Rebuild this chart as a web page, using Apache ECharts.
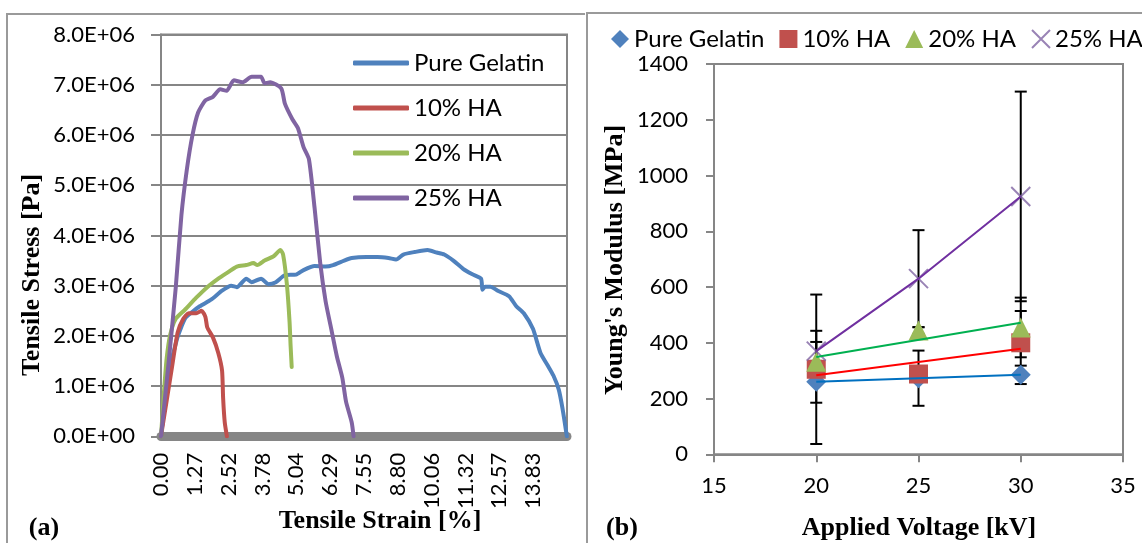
<!DOCTYPE html>
<html>
<head>
<meta charset="utf-8">
<script src="https://cdn.jsdelivr.net/npm/echarts@6/dist/echarts.min.js"></script>
<style>
  html, body { margin: 0; padding: 0; background: #fff; }
  #wrap { position: relative; width: 1142px; height: 543px; overflow: hidden; }
  #chartA { position: absolute; left: 0; top: 0; width: 585px; height: 543px; }
  #chartB { position: absolute; left: 585px; top: 0; width: 557px; height: 543px; }
</style>
</head>
<body>
<div id="wrap">
  <div id="chartA"></div>
  <div id="chartB"></div>
</div>
<script>
// ---------- (a) stress-strain curves: [strain %, stress x1E+06 Pa] ----------
const curveNames = ['Pure Gelatin', '10% HA', '20% HA', '25% HA']

const pureGelatinCurve = [
  [0, 0], [0.3, 1.25], [0.6, 1.95], [0.9, 2.35], [1.17, 2.48], [1.44, 2.59], [1.86, 2.72],
  [2.27, 2.9], [2.61, 3.0], [2.82, 2.97], [3.17, 3.14], [3.37, 3.07], [3.72, 3.14], [3.99, 3.03],
  [4.27, 3.07], [4.61, 3.21], [5.02, 3.22], [5.3, 3.31], [5.71, 3.39], [6.12, 3.38], [6.4, 3.41],
  [6.81, 3.5], [7.09, 3.55], [7.64, 3.57], [8.05, 3.57], [8.46, 3.55], [8.74, 3.52], [9.01, 3.62],
  [9.43, 3.67], [9.91, 3.71], [10.25, 3.66], [10.53, 3.62], [10.87, 3.5], [11.22, 3.34],
  [11.56, 3.23], [11.9, 3.14], [11.95, 2.92], [12.05, 2.98], [12.25, 2.98], [12.52, 2.9],
  [12.94, 2.79], [13.21, 2.59], [13.49, 2.45], [13.83, 2.14], [14.11, 1.66], [14.38, 1.41],
  [14.59, 1.21], [14.79, 0.93], [14.93, 0.55], [15.09, 0]
]
const ha10Curve = [
  [0, 0], [0.41, 1.38], [0.62, 2.07], [0.83, 2.34], [1.03, 2.45], [1.31, 2.45], [1.51, 2.5],
  [1.65, 2.38], [1.72, 2.17], [1.93, 1.97], [2.13, 1.66], [2.27, 1.31], [2.31, 0.76],
  [2.37, 0.28], [2.45, 0]
]
const ha20Curve = [
  [0, 0], [0.12, 0.95], [0.21, 1.55], [0.34, 2.02], [0.55, 2.34], [0.89, 2.52], [1.31, 2.76],
  [1.72, 2.97], [2.13, 3.14], [2.41, 3.24], [2.82, 3.38], [3.17, 3.41], [3.44, 3.45], [3.58, 3.41],
  [3.85, 3.5], [4.2, 3.59], [4.44, 3.71], [4.54, 3.62], [4.68, 3.03], [4.78, 2.28], [4.82, 1.79],
  [4.86, 1.38]
]
const ha25Curve = [
  [0, 0], [0.28, 1.45], [0.55, 2.97], [0.76, 4.41], [0.96, 5.31], [1.17, 6.0], [1.38, 6.45],
  [1.65, 6.69], [1.93, 6.76], [2.2, 6.91], [2.44, 6.88], [2.71, 7.09], [3.03, 7.05], [3.37, 7.16],
  [3.72, 7.16], [3.85, 7.03], [4.06, 7.05], [4.47, 6.93], [4.61, 6.62], [4.89, 6.31], [5.09, 6.14],
  [5.3, 5.76], [5.5, 5.52], [5.71, 4.55], [5.92, 3.45], [6.12, 2.69], [6.33, 2.14], [6.54, 1.59],
  [6.74, 1.17], [6.88, 0.69], [7.09, 0.28], [7.16, 0]
]

const strainStep = 1.258
const strainTicks = ['0.00', '1.27', '2.52', '3.78', '5.04', '6.29', '7.55', '8.80', '10.06', '11.32', '12.57', '13.83']
const stressTicks = ['0.0E+00', '1.0E+06', '2.0E+06', '3.0E+06', '4.0E+06', '5.0E+06', '6.0E+06', '7.0E+06', '8.0E+06']

// ---------- (b) Young's modulus vs applied voltage [MPa] ----------
const voltages = [20, 25, 30]
const pureGelatinModulus = [260, 273, 285]
const pureGelatinError = [75, 99, 33]
const ha10Modulus = [305, 288, 400]
const ha10Error = [268, 20, 114]
const ha20Modulus = [332, 444, 455]
const ha20Error = [71, 12, 107]
const ha25Modulus = [370, 630, 925]
const ha25Error = [73, 174, 376]

const sans = 'Lato, "Open Sans", sans-serif'
const serif = '"Liberation Serif", "DejaVu Serif", serif'
const gray = '#868686'
const colors = ['#4F81BD', '#C0504D', '#9BBB59', '#8064A2']
const trendColors = ['#0070C0', '#FF0000', '#00B050', '#7030A0']

function titleText(text, x, y, rotation) {
  return {
    type: 'text', x, y, rotation: rotation || 0,
    style: { text, fill: '#000', font: 'bold 26px ' + serif, textAlign: 'center', textVerticalAlign: 'middle' }
  }
}

function frame(x, y) {
  return {
    type: 'rect', shape: { x, y, width: 600, height: 600 },
    style: { fill: 'none', stroke: '#9a9a9a', lineWidth: 2 }, silent: true
  }
}

// ---------- chart (a) ----------
const chartA = echarts.init(document.getElementById('chartA'))
const curves = [pureGelatinCurve, ha10Curve, ha20Curve, ha25Curve]
chartA.setOption({
  animation: false,
  grid: { left: 161, top: 34.6, width: 406, height: 401.7, show: true, borderColor: gray, borderWidth: 2 },
  legend: {
    orient: 'vertical', left: 348, top: 45, itemWidth: 56, itemHeight: 5, itemGap: 19,
    icon: 'roundRect',
    data: curveNames,
    textStyle: { fontFamily: sans, fontSize: 24, color: '#000', lineHeight: 26 }
  },
  xAxis: {
    type: 'value', min: 0, max: strainStep * 12, interval: strainStep, offset: 4.5,
    axisLine: { lineStyle: { color: gray, width: 9 } },
    axisTick: { show: false },
    splitLine: { show: false },
    axisLabel: {
      rotate: 90, margin: 12, fontFamily: sans, fontSize: 22, color: '#000',
      formatter: v => strainTicks[Math.round(v / strainStep)] || ''
    }
  },
  yAxis: {
    type: 'value', min: 0, max: 8, interval: 1,
    axisLine: { show: true, lineStyle: { color: gray, width: 2 } },
    axisTick: { show: true, length: 10, lineStyle: { color: gray, width: 2 } },
    splitLine: { lineStyle: { color: gray, width: 2 } },
    axisLabel: { margin: 26, fontFamily: sans, fontSize: 22, color: '#000', formatter: v => stressTicks[Math.round(v)] }
  },
  series: curves.map((c, i) => ({
    name: curveNames[i], type: 'line', data: c, symbol: 'none', smooth: 0.2,
    lineStyle: { color: colors[i], width: 4, cap: 'round', join: 'round' },
    itemStyle: { color: colors[i] }
  })),
  graphic: [
    frame(7, 14),
    titleText('Tensile Stress [Pa]', 32, 275, Math.PI / 2),
    titleText('Tensile Strain [%]', 380, 521),
    titleText('(a)', 44, 528)
  ]
})

// ---------- chart (b) ----------
const modulus = [pureGelatinModulus, ha10Modulus, ha20Modulus, ha25Modulus]
const errors = [pureGelatinError, ha10Error, ha20Error, ha25Error]
const symbols = ['diamond', 'rect', 'triangle', 'path://M0,0L10,10M10,0L0,10']
const symbolSizes = [20, 19, 20, 19]

function linearFit(xs, ys) {
  const n = xs.length
  const mx = xs.reduce((a, b) => a + b, 0) / n
  const my = ys.reduce((a, b) => a + b, 0) / n
  let sxy = 0, sxx = 0
  xs.forEach((x, i) => { sxy += (x - mx) * (ys[i] - my); sxx += (x - mx) * (x - mx) })
  const k = sxy / sxx
  return x => my + k * (x - mx)
}

function errorBar(params, api) {
  const x = api.value(0)
  const hi = api.coord([x, api.value(2)])
  const lo = api.coord([x, api.value(1)])
  const w = 6
  const style = { stroke: '#000', lineWidth: 2, fill: null }
  return {
    type: 'group',
    children: [
      { type: 'line', shape: { x1: hi[0], y1: hi[1], x2: lo[0], y2: lo[1] }, style },
      { type: 'line', shape: { x1: hi[0] - w, y1: hi[1], x2: hi[0] + w, y2: hi[1] }, style },
      { type: 'line', shape: { x1: lo[0] - w, y1: lo[1], x2: lo[0] + w, y2: lo[1] }, style }
    ]
  }
}

const seriesB = []
modulus.forEach((vals, i) => {
  seriesB.push({
    type: 'custom', name: curveNames[i] + ' error', renderItem: errorBar, z: 2,
    data: voltages.map((v, j) => [v, vals[j] - errors[i][j], vals[j] + errors[i][j]])
  })
})
modulus.forEach((vals, i) => {
  const isCross = i === 3
  seriesB.push({
    type: 'scatter', name: curveNames[i], z: 3,
    symbol: symbols[i], symbolSize: symbolSizes[i],
    data: voltages.map((v, j) => [v, vals[j]]),
    itemStyle: isCross
      ? { color: 'rgba(0,0,0,0)', borderColor: colors[i], borderWidth: 2 }
      : { color: colors[i], opacity: 1 }
  })
})
modulus.forEach((vals, i) => {
  // three linear trend lines, and a straight polyline through the 25% HA points
  const data = i === 3
    ? voltages.map((v, j) => [v, vals[j]])
    : [voltages[0], voltages[voltages.length - 1]].map(v => [v, linearFit(voltages, vals)(v)])
  seriesB.push({
    type: 'line', name: curveNames[i] + ' line', z: 4, symbol: 'none', data,
    lineStyle: { color: trendColors[i], width: 2 }
  })
})

const chartB = echarts.init(document.getElementById('chartB'))
chartB.setOption({
  animation: false,
  grid: { left: 129, top: 64, width: 409, height: 390.3, show: true, borderColor: gray, borderWidth: 2 },
  legend: {
    left: 21, top: 21, width: 1200, itemWidth: 18, itemHeight: 18, itemGap: 15,
    data: curveNames.map((n, i) => i === 3
      ? { name: n, itemStyle: { color: 'rgba(0,0,0,0)', borderColor: colors[3], borderWidth: 2 } }
      : { name: n }),
    textStyle: { fontFamily: sans, fontSize: 24, color: '#000', lineHeight: 26 }
  },
  xAxis: {
    type: 'value', min: 15, max: 35, interval: 5,
    axisLine: { lineStyle: { color: gray, width: 2 } },
    axisTick: { show: true, length: 8, lineStyle: { color: gray, width: 2 } },
    splitLine: { show: false },
    axisLabel: { margin: 21, fontFamily: sans, fontSize: 22, color: '#000' }
  },
  yAxis: {
    type: 'value', min: 0, max: 1400, interval: 200,
    axisLine: { show: true, lineStyle: { color: gray, width: 2 } },
    axisTick: { show: true, length: 8, lineStyle: { color: gray, width: 2 } },
    splitLine: { show: false },
    axisLabel: { margin: 26, fontFamily: sans, fontSize: 22, color: '#000', formatter: v => String(v) }
  },
  series: seriesB,
  graphic: [
    frame(2, 13),
    titleText("Young's Modulus [MPa]", 30, 260, Math.PI / 2),
    titleText('Applied Voltage [kV]', 334, 528),
    titleText('(b)', 37, 528)
  ]
})
</script>
</body>
</html>
